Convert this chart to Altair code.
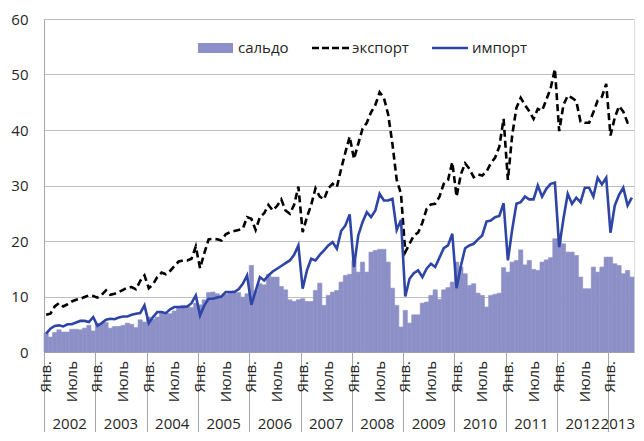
import altair as alt
import pandas as pd

years = list(range(2002, 2014))
month_labels = ["Янв.", "Июль"]
legend_labels = ["сальдо", "экспорт", "импорт"]

export = [
    6.7, 6.9, 8.2, 8.8, 8.2, 8.6, 9.1, 9.4, 9.6, 9.9, 10.2, 10.1,
    9.8, 10.3, 11.1, 10.3, 10.5, 10.8, 11.2, 11.6, 11.7, 11.3, 12.8, 13.8,
    11.5, 12.2, 13.5, 14.3, 14.0, 14.6, 15.5, 16.3, 16.5, 16.5, 16.8, 19.0,
    15.1, 17.8, 20.3, 20.4, 20.3, 20.1, 21.2, 21.6, 21.8, 22.0, 22.2, 24.3,
    24.0, 22.0, 24.3, 25.0, 26.5, 25.5, 26.3, 27.5, 25.5, 24.9, 26.5, 29.8,
    21.6, 24.3, 26.5, 29.5, 28.0, 27.5, 29.5, 30.3, 29.7, 33.0, 36.0, 38.8,
    34.8, 37.5, 40.2, 41.3, 43.2, 44.5, 46.8, 45.8, 42.8, 37.5, 31.0, 28.5,
    18.0, 19.5, 21.0, 21.5, 23.3, 25.8, 26.6, 26.7, 28.0, 30.3, 31.0, 34.2,
    28.0, 32.0, 34.0, 33.0, 31.5, 32.0, 31.8, 32.5, 34.0, 35.0, 37.0, 42.0,
    31.0, 39.0, 44.0, 45.8, 44.5, 43.4, 42.0, 43.8, 43.5, 45.5, 47.5, 51.0,
    39.8, 44.5, 46.2, 45.8, 45.2, 41.5, 41.3, 41.3, 43.2, 45.3, 46.0, 48.3,
    39.0, 42.2, 44.3, 43.3, 41.3, 41.3,
]

imports = [
    3.3, 4.2, 4.7, 4.8, 4.6, 5.0, 5.0, 5.3, 5.6, 5.6, 5.4, 6.3,
    4.7, 5.2, 5.8, 6.0, 5.9, 6.2, 6.4, 6.4, 6.7, 6.9, 7.0, 8.4,
    5.2, 6.3, 7.2, 7.2, 7.0, 7.7, 8.1, 8.1, 8.1, 8.2, 8.8, 10.2,
    6.6, 8.4, 9.6, 9.6, 9.8, 10.0, 10.8, 10.8, 10.8, 11.3, 12.3, 13.8,
    8.5, 11.0, 13.5, 12.9, 13.8, 14.5, 15.0, 15.5, 16.0, 16.5, 17.5, 19.2,
    11.4, 14.7, 16.8, 16.5, 17.5, 18.3, 19.2, 19.8, 18.6, 21.8, 22.8, 24.8,
    15.3, 21.0, 23.4, 25.2, 24.3, 25.5, 28.5, 27.3, 27.3, 27.6, 22.0, 23.8,
    10.0, 13.2, 14.2, 14.7, 13.5, 15.0, 15.9, 15.3, 17.0, 18.7, 19.2, 21.3,
    11.5, 15.5, 18.7, 19.2, 19.5, 20.3, 21.0, 23.5, 23.7, 24.3, 24.5, 26.8,
    16.5, 22.0, 26.7, 27.0, 28.0, 27.5, 27.5, 30.0, 28.0, 29.4, 30.3, 30.5,
    18.9, 24.0, 28.5, 26.7, 27.8, 27.0, 29.6, 29.6, 28.0, 31.4, 30.2, 31.4,
    21.5, 26.4, 28.3, 29.6, 26.4, 27.8,
]

saldo = [
    3.4, 2.7, 3.5, 4.0, 3.6, 3.6, 4.1, 4.1, 4.0, 4.3, 4.8, 3.8,
    5.1, 5.1, 5.3, 4.3, 4.6, 4.6, 4.8, 5.2, 5.0, 4.4, 5.8, 5.4,
    6.3, 5.9, 6.3, 7.1, 7.0, 6.9, 7.4, 8.2, 8.4, 8.3, 8.0, 8.8,
    8.5, 9.4, 10.7, 10.8, 10.5, 10.1, 10.4, 10.8, 11.0, 10.7, 9.9, 10.5,
    15.6, 11.0, 12.3, 12.1, 14.0, 13.5, 13.5, 11.8, 11.2, 9.4, 9.1, 9.4,
    9.6, 9.1, 9.1, 11.1, 12.4, 8.4, 10.2, 10.8, 11.1, 12.6, 13.8, 14.0,
    16.5, 14.4, 16.2, 14.4, 18.0, 18.3, 18.5, 18.5, 16.2, 11.5, 8.4, 4.5,
    7.5, 5.2, 6.7, 6.7, 8.8, 9.0, 10.2, 11.2, 9.5, 11.2, 11.6, 12.6,
    16.2, 15.3, 14.1, 12.0, 12.3, 10.6, 10.2, 8.1, 10.2, 10.4, 10.6, 15.2,
    14.4, 16.2, 16.5, 18.4, 15.7, 16.5, 14.9, 14.7, 16.2, 16.6, 17.0, 20.4,
    20.4, 19.5, 18.0, 18.0, 17.4, 13.5, 11.4, 11.4, 15.3, 14.4, 15.3, 17.1,
    17.1, 15.9, 15.6, 14.1, 14.7, 13.5,
]

BAR = "#8D90C7"
BLUE = "#2E45A6"
TXT = "#262626"
GRID = "#BFBFBF"
AXC = "#A6A6A6"
FONT = "Open Sans"
FS = 15

n = len(export)
df = pd.DataFrame({"idx": list(range(n)), "export": export,
                   "imp": imports, "saldo": saldo})
df["x0"] = df["idx"]
df["x1"] = df["idx"] + 1
df["xc"] = df["idx"] + 0.5

mrows = []
for k, yr in enumerate(years):
    for j, lab in enumerate(month_labels):
        i = 12 * k + 6 * j
        if i < n:
            mrows.append({"xc": i + 0.5, "lab": lab})
mdf = pd.DataFrame(mrows)

full_rows, part_rows = [], []
for k, yr in enumerate(years):
    start = 12 * k
    end = min(12 * (k + 1), n)
    if end - start == 12:
        full_rows.append({"xc": (start + end) / 2, "lab": str(yr)})
    else:
        part_rows.append({"xe": end, "lab": str(yr)})
ydf_full = pd.DataFrame(full_rows)
ydf_part = pd.DataFrame(part_rows)

W, H = 590, 333

xs = alt.Scale(domain=[0, n], nice=False, zero=False)
ys = alt.Scale(domain=[0, 60], nice=False)

xaxis = alt.Axis(values=list(range(0, n, 12)), labels=False, tickSize=80,
                 tickColor=AXC, tickWidth=1, domainColor=AXC, grid=False,
                 title=None)
yaxis = alt.Axis(values=list(range(0, 61, 10)), ticks=False, labelPadding=16,
                 labelFontSize=FS, labelFont=FONT, labelColor=TXT,
                 domainColor=AXC, gridColor=GRID, grid=True, title=None)

bars = alt.Chart(df).mark_rect(color=BAR, stroke=BAR, strokeWidth=0.6).encode(
    x=alt.X("x0:Q", scale=xs, axis=xaxis),
    x2="x1:Q",
    y=alt.Y("saldo:Q", scale=ys, axis=yaxis),
    y2=alt.datum(0),
)

exp_line = alt.Chart(df).mark_line(color="black", strokeDash=[7, 4],
                                   strokeWidth=2.6).encode(
    x=alt.X("xc:Q", scale=xs, axis=xaxis),
    y=alt.Y("export:Q", scale=ys, axis=yaxis),
)

imp_line = alt.Chart(df).mark_line(color=BLUE, strokeWidth=2.6).encode(
    x=alt.X("xc:Q", scale=xs, axis=xaxis),
    y=alt.Y("imp:Q", scale=ys, axis=yaxis),
)

mtext = alt.Chart(mdf).mark_text(angle=270, align="right", baseline="middle",
                                 fontSize=FS, font=FONT, color=TXT).encode(
    x=alt.X("xc:Q", scale=xs, axis=xaxis),
    y=alt.value(H + 9),
    text="lab:N",
)

ytext = alt.Chart(ydf_full).mark_text(align="center", baseline="alphabetic",
                                      fontSize=FS, font=FONT,
                                      color=TXT).encode(
    x=alt.X("xc:Q", scale=xs, axis=xaxis),
    y=alt.value(H + 77),
    text="lab:N",
)

ytext_part = alt.Chart(ydf_part).mark_text(align="right", baseline="alphabetic",
                                           fontSize=FS, font=FONT, color=TXT,
                                           dx=1).encode(
    x=alt.X("xe:Q", scale=xs, axis=xaxis),
    y=alt.value(H + 77),
    text="lab:N",
)

one = pd.DataFrame({"k": [0]})
leg_rect = alt.Chart(one).mark_rect(color=BAR).encode(
    x=alt.value(154), x2=alt.value(189), y=alt.value(24), y2=alt.value(34))
leg_dash = alt.Chart(one).mark_rule(color="black", strokeDash=[7, 3],
                                    strokeWidth=2.6).encode(
    x=alt.value(268), x2=alt.value(306), y=alt.value(29))
leg_line = alt.Chart(one).mark_rule(color=BLUE, strokeWidth=2.6).encode(
    x=alt.value(388), x2=alt.value(424), y=alt.value(29))


def leg_text(label, xpos):
    return alt.Chart(one).mark_text(align="left", baseline="middle",
                                    fontSize=FS, font=FONT, color=TXT).encode(
        x=alt.value(xpos), y=alt.value(29), text=alt.value(label))


chart = alt.layer(
    bars, exp_line, imp_line, mtext, ytext, ytext_part,
    leg_rect, leg_dash, leg_line,
    leg_text(legend_labels[0], 194),
    leg_text(legend_labels[1], 308),
    leg_text(legend_labels[2], 428),
).properties(
    width=W, height=H,
    padding={"left": 36, "top": 11, "right": 2, "bottom": 80},
    autosize=alt.AutoSizeParams(type="none"),
).configure_view(strokeWidth=0).configure(font=FONT)

chart.save("out.html", embed_options={"renderer": "svg", "actions": False})
